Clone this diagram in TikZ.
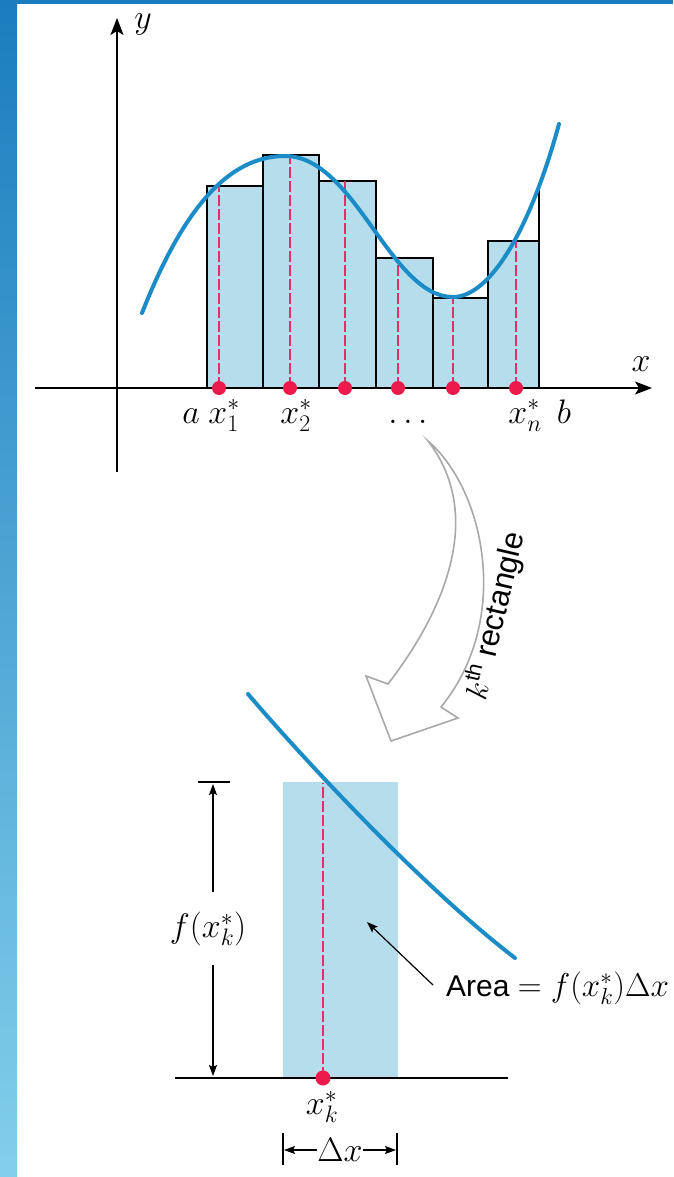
\RequirePackage{fix-cm}
\documentclass[tikz,border=0pt]{standalone}
\usepackage{fontspec}
\setsansfont{Liberation Sans}
\usetikzlibrary{arrows.meta}
\definecolor{curveblue}{HTML}{1B8CC8}
\definecolor{fillblue}{HTML}{B5DDEC}
\definecolor{dotred}{HTML}{EC1B4B}
\definecolor{dashred}{HTML}{E0306A}
\definecolor{framedark}{HTML}{1B7DBE}
\definecolor{framelight}{HTML}{82CFEB}
\definecolor{arrgray}{HTML}{A8A8A8}
\begin{document}
\begin{tikzpicture}[x=1pt,y=-1pt,
  axis/.style={line width=1.4pt,-{Stealth[length=17pt,width=13pt,inset=4pt]}},
  barbox/.style={fill=fillblue,draw=black,line width=1.3pt},
  sampleline/.style={dashred,line width=1.4pt,dash pattern=on 11pt off 3pt},
  curveline/.style={curveblue,line width=4pt,line cap=round},
  dotnode/.style={circle,fill=dotred,inner sep=0pt,minimum size=14pt},
  lbl/.style={inner sep=0pt,font=\fontsize{34}{38}\selectfont},
  dim/.style={line width=1.2pt,-{Stealth[length=11pt,width=8pt,inset=2pt]}},
  thin/.style={line width=1.2pt}
]
\useasboundingbox (0,0) rectangle (673,1177);
% frame
\shade[top color=framedark,bottom color=framelight] (0,0) rectangle (17,1177);
\fill[framedark] (0,0) rectangle (673,4);

% ---------- top graph ----------
\draw[barbox] (207,388) rectangle (263,186);
\draw[barbox] (263,388) rectangle (319,155);
\draw[barbox] (319,388) rectangle (376,181);
\draw[barbox] (376,388) rectangle (433,258);
\draw[barbox] (433,388) rectangle (488,298);
\draw[barbox] (488,388) rectangle (539,241);
\draw[line width=1.3pt] (539,241) -- (539,187);

\draw[sampleline] (219,388) -- (219,186);
\draw[sampleline] (290,388) -- (290,155);
\draw[sampleline] (345,388) -- (345,181);
\draw[sampleline] (398,388) -- (398,258);
\draw[sampleline] (453,388) -- (453,298);
\draw[sampleline] (516,388) -- (516,241);

\draw[curveline] (142,313) .. controls (178,222) and (222,156) .. (285,156)
  .. controls (355,156) and (390,297) .. (453,297)
  .. controls (490,297) and (530,230) .. (559,124);

\coordinate (xs) at (35,388);
\coordinate (xe) at (652,388);
\coordinate (ys) at (117,472);
\coordinate (ye) at (117,18);
\draw[axis] (xs) -- (xe);
\draw[axis] (ys) -- (ye);
\node[lbl,anchor=base] (ylab) at (143,29) {$y$};
\node[lbl,anchor=base] (xlab) at (641,371) {$x$};

\node[dotnode] (d1) at (219,388) {};
\node[dotnode] (d2) at (290,388) {};
\node[dotnode] (d3) at (345,388) {};
\node[dotnode] (d4) at (398,388) {};
\node[dotnode] (d5) at (453,388) {};
\node[dotnode] (d6) at (516,388) {};

\node[lbl,anchor=base] (la) at (191,423) {$a$};
\node[lbl,anchor=base] (l1) at (224,423) {$x_1^*$};
\node[lbl,anchor=base] (l2) at (296,423) {$x_2^*$};
\node[lbl,anchor=base] (ld) at (408,423) {$\ldots$};
\node[lbl,anchor=base] (ln) at (525,423) {$x_n^*$};
\node[lbl,anchor=base] (lb) at (564,423) {$b$};

% ---------- curved arrow ----------
\draw[arrgray,line width=1.6pt,line join=miter,fill=white]
  (428,441) .. controls (485,490) and (512,620) .. (441,707)
  -- (458,718) -- (391,741) -- (366,676) -- (388,684)
  .. controls (445,610) and (485,515) .. (428,441) -- cycle;
\node[inner sep=0pt,rotate=77,font=\sffamily\fontsize{31}{36}\selectfont] (klab) at (495,616)
  {$k$\textsuperscript{th} rectangle};

% ---------- bottom graph ----------
\fill[fillblue] (283,782) rectangle (398,1078);
\draw[sampleline] (323,1078) -- (323,783);
\draw[curveline] (248,694) .. controls (300,755) and (420,885) .. (515,958);
\coordinate (bl) at (175,1078);
\coordinate (br) at (508,1078);
\draw[thin] (bl) -- (br);
\node[dotnode,minimum size=15pt] (dk) at (323,1078) {};

% f(x_k^*) dimension
\coordinate (tb1) at (198,782);
\coordinate (tb2) at (230,782);
\draw[thin] (tb1) -- (tb2);
\node[lbl] (fl) at (208,929) {$f(x_k^*)$};
\coordinate (up1) at (213,892);
\coordinate (up2) at (213,784);
\coordinate (dn1) at (213,965);
\coordinate (dn2) at (213,1076);
\draw[dim] (up1) -- (up2);
\draw[dim] (dn1) -- (dn2);

% area label
\node[inner sep=0pt,anchor=base west] (area) at (446,996)
  {\sffamily\fontsize{30}{34}\selectfont Area \fontsize{33}{36}\selectfont$= f(x_k^*)\Delta x$};
\coordinate (at) at (433,985);
\coordinate (ah) at (367,922);
\draw[dim] (at) -- (ah);

% x_k^* and Delta x
\node[lbl] (xk) at (322,1107) {$x_k^*$};
\node[lbl] (dx) at (340,1150) {$\Delta x$};
\coordinate (lb1) at (283,1133);
\coordinate (lb2) at (283,1165);
\coordinate (rb1) at (397,1133);
\coordinate (rb2) at (397,1165);
\draw[thin] (lb1) -- (lb2);
\draw[thin] (rb1) -- (rb2);
\draw[dim] (dx.west) -- (284,1150);
\draw[dim] (dx.east) -- (396,1150);
\end{tikzpicture}
\end{document}
